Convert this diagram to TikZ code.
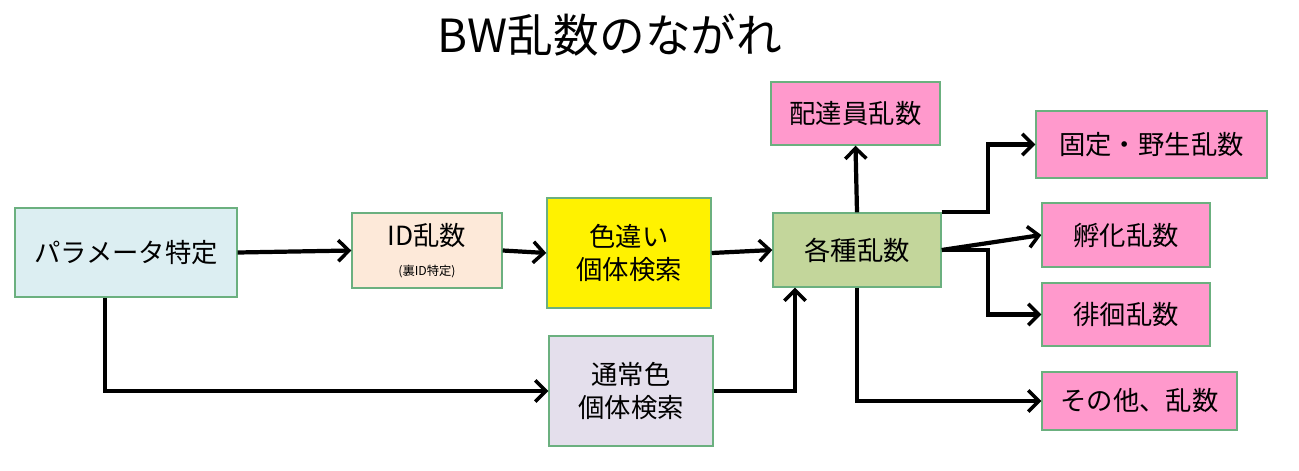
\documentclass[tikz,border=0pt]{standalone}
\usepackage{fontspec}
\setmainfont{Noto Sans CJK JP}
\usepackage{tikz}
\usetikzlibrary{arrows.meta}
\definecolor{boxline}{HTML}{6BB07F}
\definecolor{paramfill}{HTML}{DCEEF2}
\definecolor{idfill}{HTML}{FDE9D9}
\definecolor{normfill}{HTML}{E4DFEC}
\definecolor{kakufill}{HTML}{C3D69B}
\definecolor{pinkfill}{HTML}{FF99CC}

\begin{document}
\begin{tikzpicture}[
    box/.style = {draw=boxline, line width=0.8pt, align=center, font=\fontsize{15}{19}\selectfont, inner sep=0pt},
    flow/.style = {line width=2.4pt, arrows = {-Straight Barb[length=6pt, width=12pt, line width=2pt]}}
  ]
    \useasboundingbox (0, 0) rectangle (25.98, 9.4);
    \node (title) at (12.2, 8.7) {\fontsize{26}{30}\selectfont BW乱数のながれ};
    \node[box, fill=paramfill, minimum width=4.44cm, minimum height=1.78cm] (param) at (2.52, 4.35) {パラメータ特定};
    \node[box, fill=idfill, minimum width=3.0cm, minimum height=1.5cm] (id) at (8.54, 4.39) {ID乱数\\[-2pt]{\fontsize{7}{8}\selectfont (裏ID特定)}};
    \node[box, fill=yellow, minimum width=3.28cm, minimum height=2.2cm] (shiny) at (12.58, 4.34) {色違い\\個体検索};
    \node[box, fill=normfill, minimum width=3.28cm, minimum height=2.2cm] (normal) at (12.62, 1.58) {通常色\\個体検索};
    \node[box, fill=kakufill, minimum width=3.36cm, minimum height=1.48cm] (kaku) at (17.14, 4.4) {各種乱数};
    \node[box, fill=pinkfill, minimum width=3.38cm, minimum height=1.26cm] (haita) at (17.11, 7.13) {配達員乱数};
    \node[box, fill=pinkfill, minimum width=4.62cm, minimum height=1.34cm] (kotei) at (23.03, 6.51) {固定・野生乱数};
    \node[box, fill=pinkfill, minimum width=3.36cm, minimum height=1.28cm] (fuka) at (22.52, 4.7) {孵化乱数};
    \node[box, fill=pinkfill, minimum width=3.36cm, minimum height=1.26cm] (haikai) at (22.52, 3.11) {徘徊乱数};
    \node[box, fill=pinkfill, minimum width=3.9cm, minimum height=1.16cm] (sonota) at (22.79, 1.38) {その他、乱数};
    \coordinate (split) at (19.76, 4.4);
    % left part
    \draw[flow] (param.east) -- (id.west);
    \draw[flow] (id.east) -- (shiny.west);
    \draw[flow] (shiny.east) -- (kaku.west);
    \draw[flow] ([xshift=-0.42cm]param.south) |- (normal.west);
    \draw[flow] (normal.east) -| ([xshift=-1.24cm]kaku.south);
    % right part
    \draw[flow] (kaku.north) -- (haita.south);
    \draw[flow] (kaku.north east) -| (split |- kotei.west) -- (kotei.west);
    \draw[flow] (kaku.east) -- (fuka.west);
    \draw[flow] (kaku.east) -- (split) |- (haikai.west);
    \draw[flow] (kaku.south) |- (sonota.west);
\end{tikzpicture}
\end{document}
